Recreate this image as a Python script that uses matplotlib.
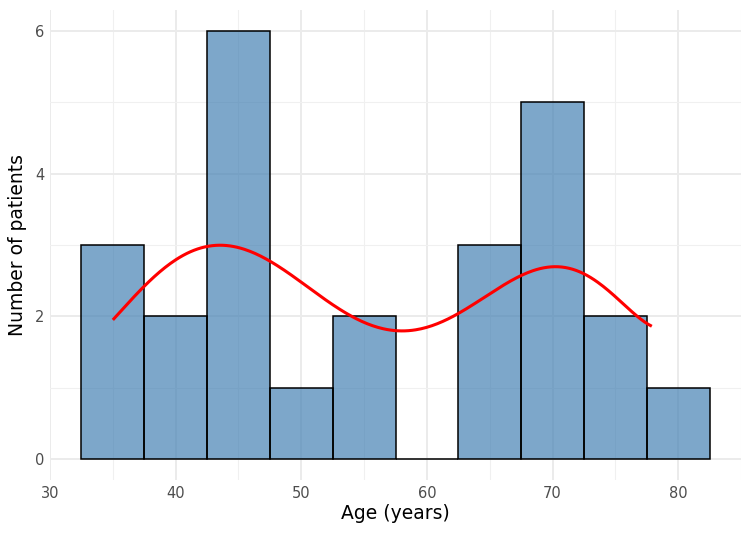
import numpy as np
import matplotlib.pyplot as plt

# histogram bins (centres, width 5) and patient counts
bin_centres = [35, 40, 45, 50, 55, 60, 65, 70, 75, 80]
counts = [3, 2, 6, 1, 2, 0, 3, 5, 2, 1]

# red smooth curve
curve_age = [35.0, 37.6, 40.4, 43.7, 47.5, 51.0, 53.9, 57.9, 62.5, 65.8, 70.3, 73.8, 77.9]
curve_n = [1.95, 2.44, 2.84, 2.99, 2.77, 2.37, 2.00, 1.79, 2.04, 2.42, 2.68, 2.46, 1.86]

fig = plt.figure(figsize=(7.5, 5.36), dpi=100)
ax = fig.add_axes([0.0667, 0.1037, 0.9213, 0.8783])

ax.bar(bin_centres, counts, width=5, color="steelblue", alpha=0.7,
       edgecolor="none", zorder=2)
ax.bar(bin_centres, counts, width=5, facecolor="none",
       edgecolor="black", linewidth=1.1, zorder=3)

# smooth the read points with a polynomial so the line has no kinks
coef = np.polyfit(curve_age, curve_n, 7)
sx = np.linspace(curve_age[0], curve_age[-1], 300)
sy = np.polyval(coef, sx)
ax.plot(sx, sy, color="red", linewidth=2.2, zorder=4, solid_capstyle="butt")

ax.set_xlim(30, 85)
ax.set_ylim(-0.3, 6.3)
ax.set_xticks([30, 40, 50, 60, 70, 80])
ax.set_xticks([35, 45, 55, 65, 75, 85], minor=True)
ax.set_yticks([0, 2, 4, 6])
ax.set_yticks([1, 3, 5], minor=True)
ax.grid(which="major", color="#EBEBEB", linewidth=1.4, zorder=0)
ax.grid(which="minor", color="#F0F0F0", linewidth=0.8, zorder=0)
ax.set_axisbelow(True)
for s in ax.spines.values():
    s.set_visible(False)
ax.tick_params(which="both", length=0, labelsize=10.5, labelcolor="#4D4D4D", pad=4)

ax.set_xlabel("Age (years)", fontsize=13.5, labelpad=2)
ax.set_ylabel("Number of patients", fontsize=13.5, labelpad=6)

fig.savefig("out.png", dpi=100)
